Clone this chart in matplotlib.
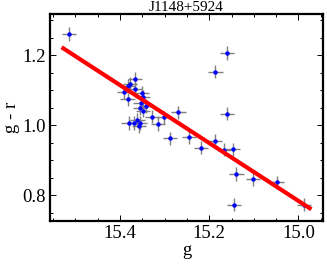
import matplotlib
matplotlib.use("Agg")
import matplotlib.pyplot as plt
from matplotlib.ticker import MultipleLocator

title = "J1148+5924"
g_mag = [15.514, 15.160, 15.186, 15.160, 15.366, 15.377, 15.383, 15.366, 15.391,
         15.350, 15.348, 15.383, 15.354, 15.356, 15.342, 15.348, 15.329, 15.302,
         15.315, 15.368, 15.381, 15.361, 15.357, 15.355,
         15.269, 15.288, 15.245, 15.218, 15.187, 15.167, 15.147, 15.139, 15.144,
         15.102, 15.048, 14.988]
g_r = [1.261, 1.207, 1.153, 1.033, 1.132, 1.118, 1.113, 1.105, 1.094,
       1.093, 1.082, 1.074, 1.065, 1.049, 1.055, 1.042, 1.025, 1.023,
       1.004, 1.007, 1.007, 1.015, 0.998, 1.007,
       1.037, 0.963, 0.966, 0.936, 0.956, 0.930, 0.931, 0.861, 0.773,
       0.847, 0.837, 0.773]
g_err = [0.016] * len(g_mag)
gr_err = [0.019] * len(g_r)
fit_g = [15.531, 14.971]
fit_gr = [1.223, 0.760]
x_ticks = [15.4, 15.2, 15.0]
y_ticks = [0.8, 1.0, 1.2]

plt.rcParams['font.family'] = ['Liberation Serif', 'DejaVu Serif']
fig = plt.figure(figsize=(3.27, 2.69), dpi=100)
ax = fig.add_axes([50/327, 48/269, 273/327, 207/269])

ax.errorbar(g_mag, g_r, xerr=g_err, yerr=gr_err, fmt='none', ecolor='#7f7f7f',
            elinewidth=1.0, capsize=0, zorder=2)
ax.plot(g_mag, g_r, 'o', color='#0000ff', markersize=3.2, markeredgewidth=0, zorder=3)
ax.plot(fit_g, fit_gr, color='#ff0000', linewidth=3.0, solid_capstyle='butt', zorder=4)

ax.set_xlim(15.557, 14.945)
ax.set_ylim(0.7266, 1.318)
ax.set_xticks(x_ticks)
ax.set_xticklabels([f"{v:.1f}" for v in x_ticks])
ax.set_yticks(y_ticks)
ax.set_yticklabels([f"{v:.1f}" for v in y_ticks])
ax.xaxis.set_minor_locator(MultipleLocator(0.05))
ax.yaxis.set_minor_locator(MultipleLocator(0.05))
ax.tick_params(which='both', direction='in', top=True, right=True, labelsize=13.5,
               width=0.7, colors='black', pad=3)
ax.tick_params(which='major', length=4)
ax.tick_params(which='minor', length=2.5)
for s in ax.spines.values():
    s.set_linewidth(1.6)

ax.set_xlabel("g", fontsize=13.5, labelpad=0)
ax.set_ylabel("g - r", fontsize=13.5, labelpad=2)
ax.set_title(title, fontsize=11, pad=2)

fig.savefig("out.png", dpi=100)
